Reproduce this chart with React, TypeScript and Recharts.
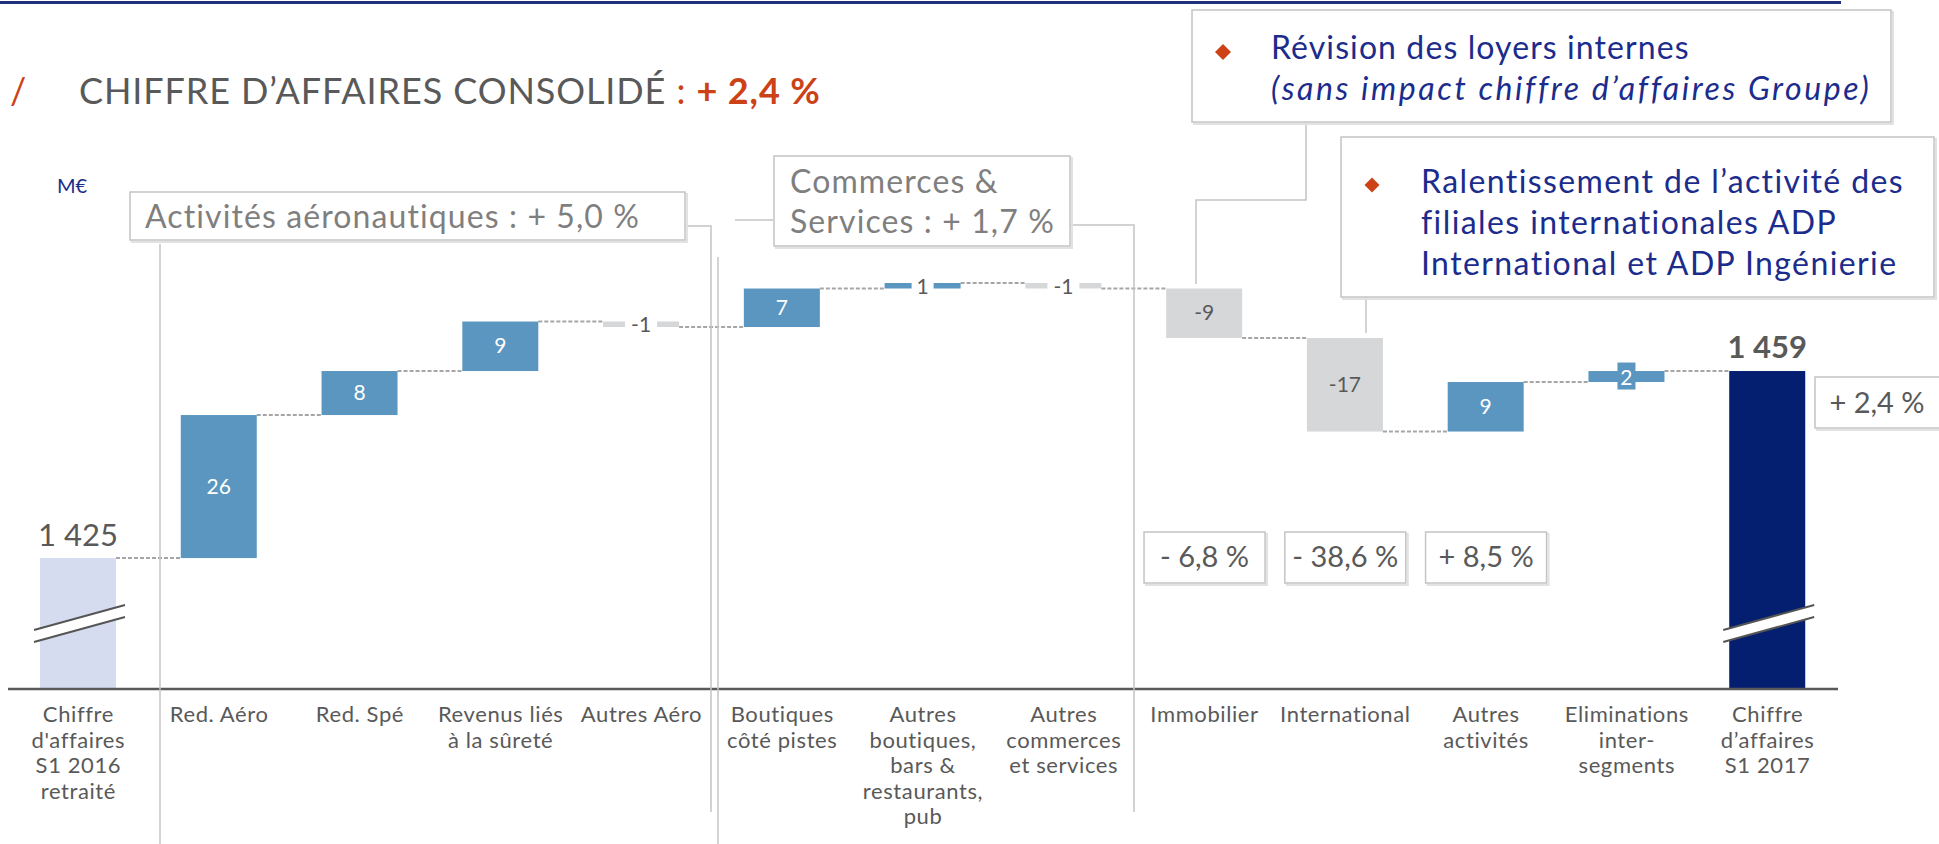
import React from 'react';
import { BarChart, Bar, XAxis, YAxis } from 'recharts';

// ---------- data ----------
const categories = [
  "Chiffre d'affaires S1 2016 retraité",
  'Red. Aéro',
  'Red. Spé',
  'Revenus liés à la sûreté',
  'Autres Aéro',
  'Boutiques côté pistes',
  'Autres boutiques, bars & restaurants, pub',
  'Autres commerces et services',
  'Immobilier',
  'International',
  'Autres activités',
  'Eliminations inter-segments',
  'Chiffre d’affaires S1 2017',
];
const tickLabelLines = [
  ['Chiffre', "d'affaires", 'S1 2016', 'retraité'],
  ['Red. Aéro'],
  ['Red. Spé'],
  ['Revenus liés', 'à la sûreté'],
  ['Autres Aéro'],
  ['Boutiques', 'côté pistes'],
  ['Autres', 'boutiques,', 'bars &', 'restaurants,', 'pub'],
  ['Autres', 'commerces', 'et services'],
  ['Immobilier'],
  ['International'],
  ['Autres', 'activités'],
  ['Eliminations', 'inter-', 'segments'],
  ['Chiffre', 'd’affaires', 'S1 2017'],
];
const startValue = 1425;
const endValue = 1459;
const variations = [26, 8, 9, -1, 7, 1, -1, -9, -17, 9, 2];
const segmentGrowthLabels = ['- 6,8 %', '- 38,6 %', '+ 8,5 %'];
const segmentGrowthIndex = [8, 9, 10];
const totalGrowthLabel = '+ 2,4 %';

// ---------- layout / style ----------
const W = 1939;
const H = 844;
const MARGIN = { top: 250, right: 101, bottom: 0, left: 8 };
const AXIS_H = 155;
const BAR_SIZE = 76;
const Y_DOMAIN: [number, number] = [1401.2, 1481];
const BAND = (W - MARGIN.left - MARGIN.right) / categories.length;
const FONT = "Lato, 'Noto Sans', sans-serif";

const START_FILL = '#D5DCF0';
const UP_FILL = '#5B96C0';
const DOWN_FILL = '#D6D7D9';
const END_FILL = '#041F6F';
const TEXT_DARK = '#595959';
const TEXT_MID = '#7F7F7F';
const BOX_STROKE = '#C4C4C4';
const NAVY = '#1B2C8C';
const ACCENT = '#CC4216';

const fmt = (n: number) => String(n).replace(/\B(?=(\d{3})+(?!\d))/g, ' ');

type Row = {
  name: string;
  value: number | [number, number];
  kind: 'start' | 'up' | 'down' | 'end';
  delta: number;
  total: number;
};

const rows: Row[] = (() => {
  const out: Row[] = [];
  out.push({ name: categories[0], value: startValue, kind: 'start', delta: 0, total: startValue });
  let running = startValue;
  variations.forEach((d, i) => {
    const next = running + d;
    out.push({
      name: categories[i + 1],
      value: [Math.min(running, next), Math.max(running, next)],
      kind: d >= 0 ? 'up' : 'down',
      delta: d,
      total: next,
    });
    running = next;
  });
  out.push({ name: categories[categories.length - 1], value: endValue, kind: 'end', delta: 0, total: endValue });
  return out;
})();

const fillFor = (k: Row['kind']) =>
  k === 'start' ? START_FILL : k === 'end' ? END_FILL : k === 'up' ? UP_FILL : DOWN_FILL;

const BreakMark = ({ x, width, bottom }: { x: number; width: number; bottom: number }) => {
  const x1 = x - 6;
  const x2 = x + width + 9;
  const yl = bottom - 59;
  const yr = bottom - 84;
  const gap = 12;
  return (
    <g>
      <polygon points={`${x1},${yl} ${x2},${yr} ${x2},${yr + gap} ${x1},${yl + gap}`} fill="#fff" />
      <line x1={x1} y1={yl} x2={x2} y2={yr} stroke="#555" strokeWidth={2} />
      <line x1={x1} y1={yl + gap} x2={x2} y2={yr + gap} stroke="#555" strokeWidth={2} />
    </g>
  );
};

const WaterfallShape = (props: any) => {
  const { x, y, width, height, payload, index } = props;
  const row: Row = payload;
  const fill = fillFor(row.kind);
  const cx = x + width / 2;
  const cy = y + height / 2;
  const isLast = index === rows.length - 1;
  const level = row.kind === 'down' ? y + height : y;
  let label: React.ReactNode = null;
  if (row.kind === 'up' || row.kind === 'down') {
    const txt = row.delta > 0 ? String(row.delta) : '-' + Math.abs(row.delta);
    if (Math.abs(row.delta) <= 1) {
      const bw = txt.length * 10 + 12;
      label = (
        <g>
          <rect x={cx - bw / 2} y={cy - 14} width={bw} height={28} fill="#fff" />
          <text x={cx} y={cy + 8} textAnchor="middle" fontSize={21} fill={TEXT_DARK} fontFamily={FONT}>{txt}</text>
        </g>
      );
    } else if (height < 22) {
      label = (
        <g>
          <rect x={cx - 9} y={cy - 14} width={18} height={27} fill={fill} />
          <text x={cx} y={cy + 8} textAnchor="middle" fontSize={21} fill="#fff" fontFamily={FONT}>{txt}</text>
        </g>
      );
    } else {
      label = (
        <text x={cx} y={cy + 7} textAnchor="middle" fontSize={21}
          fill={row.kind === 'up' ? '#fff' : TEXT_DARK} fontFamily={FONT}>{txt}</text>
      );
    }
  } else if (row.kind === 'start') {
    label = (
      <text x={cx} y={y - 12} textAnchor="middle" fontSize={31} fill={TEXT_DARK} fontFamily={FONT}>{fmt(row.total)}</text>
    );
  } else {
    label = (
      <text x={cx} y={y - 13} textAnchor="middle" fontSize={31} fontWeight={700} fill={TEXT_DARK} fontFamily={FONT}>{fmt(row.total)}</text>
    );
  }
  return (
    <g>
      {!isLast && (
        <line x1={x + width} y1={level} x2={x + BAND} y2={level} stroke="#A6A6A6" strokeWidth={2} strokeDasharray="4 2" />
      )}
      <rect x={x} y={y} width={width} height={height} fill={fill} />
      {(row.kind === 'start' || row.kind === 'end') && <BreakMark x={x} width={width} bottom={y + height} />}
      {label}
    </g>
  );
};

const CategoryTick = (props: any) => {
  const { x, y, payload } = props;
  const idx = categories.indexOf(payload.value);
  const lines = tickLabelLines[idx] || [String(payload.value)];
  return (
    <text x={x} y={y + 33} textAnchor="middle" fontSize={22} letterSpacing={0.6} fill={TEXT_DARK} fontFamily={FONT}>
      {lines.map((l, i) => (
        <tspan key={i} x={x} dy={i === 0 ? 0 : 25.5}>{l}</tspan>
      ))}
    </text>
  );
};

const Box = ({ x, y, w, h }: { x: number; y: number; w: number; h: number }) => (
  <g>
    <rect x={x + 2} y={y + 2} width={w} height={h} fill="none" stroke="#E2E2E2" strokeWidth={2} />
    <rect x={x} y={y} width={w} height={h} fill="#fff" stroke={BOX_STROKE} strokeWidth={1.5} />
  </g>
);

const Diamond = ({ cx, cy, r }: { cx: number; cy: number; r: number }) => (
  <polygon points={`${cx},${cy - r} ${cx + r},${cy} ${cx},${cy + r} ${cx - r},${cy}`} fill={ACCENT} />
);

const catCenter = (i: number) => MARGIN.left + BAND * (i + 0.5);

export default function App() {
  return (
    <div style={{ position: 'relative', width: W, height: H, background: '#fff', fontFamily: FONT, overflow: 'hidden' }}>
      <style>{`body{margin:0}`}</style>
      <BarChart width={W} height={H} data={rows} margin={MARGIN} barSize={BAR_SIZE}>
        <XAxis
          dataKey="name"
          interval={0}
          height={AXIS_H}
          tickLine={false}
          tickSize={0}
          tickMargin={0}
          axisLine={{ stroke: TEXT_DARK, strokeWidth: 2.5 }}
          tick={<CategoryTick />}
        />
        <YAxis hide type="number" domain={Y_DOMAIN} allowDataOverflow />
        <Bar dataKey="value" isAnimationActive={false} shape={(p: any) => <WaterfallShape {...p} />} />
      </BarChart>
      <svg width={W} height={H} style={{ position: 'absolute', left: 0, top: 0, pointerEvents: 'none' }} fontFamily={FONT}>
        {/* top rule */}
        <rect x={0} y={1} width={1841} height={3} fill="#1F2F7A" />
        {/* title */}
        <text x={10} y={104} fontSize={36} fill={ACCENT}>/</text>
        <text x={79} y={104} fontSize={36} letterSpacing={0.9} fill={TEXT_DARK}>
          CHIFFRE D’AFFAIRES CONSOLIDÉ <tspan fill={ACCENT}>: </tspan>
          <tspan fill={ACCENT} fontWeight={700}>+ 2,4 %</tspan>
        </text>
        <text x={57} y={193} fontSize={20} fill={NAVY}>M€</text>

        {/* connector lines */}
        <g stroke={BOX_STROKE} strokeWidth={1.5} fill="none">
          <line x1={160} y1={244} x2={160} y2={844} />
          <polyline points="685,226 711,226 711,812" />
          <line x1={735} y1={220} x2={773} y2={220} />
          <line x1={718} y1={257} x2={718} y2={844} />
          <polyline points="1069,225 1134,225 1134,812" />
          <polyline points="1306,122 1306,200 1196,200 1196,284" />
          <line x1={1366} y1={297} x2={1366} y2={333} />
        </g>

        {/* segment boxes */}
        <Box x={130} y={192} w={555} h={48} />
        <text x={145} y={228} fontSize={32} letterSpacing={1.1} fill={TEXT_MID}>Activités aéronautiques : + 5,0 %</text>

        <Box x={774} y={156} w={296} h={90} />
        <text x={790} y={193} fontSize={32} letterSpacing={1.1} fill={TEXT_MID}>Commerces &amp;</text>
        <text x={790} y={233} fontSize={32} letterSpacing={1.1} fill={TEXT_MID}>Services : + 1,7 %</text>

        <Box x={1192} y={10} w={699} h={112} />
        <Diamond cx={1223} cy={52} r={8} />
        <text x={1271} y={59} fontSize={32} letterSpacing={1.1} fill={NAVY}>Révision des loyers internes</text>
        <text x={1271} y={100} fontSize={32} letterSpacing={2.6} fill={NAVY} fontStyle="italic">(sans impact chiffre d’affaires Groupe)</text>

        <Box x={1341} y={137} w={593} h={160} />
        <Diamond cx={1372} cy={185} r={7.5} />
        <text x={1421} y={193} fontSize={32} letterSpacing={1.4} fill={NAVY}>Ralentissement de l’activité des</text>
        <text x={1421} y={234} fontSize={32} letterSpacing={1.4} fill={NAVY}>filiales internationales ADP</text>
        <text x={1421} y={275} fontSize={32} letterSpacing={1.4} fill={NAVY}>International et ADP Ingénierie</text>

        {/* growth boxes */}
        {segmentGrowthLabels.map((t, i) => {
          const cx = catCenter(segmentGrowthIndex[i]);
          return (
            <g key={t}>
              <Box x={cx - 60.5} y={532} w={121} h={51} />
              <text x={cx} y={567} textAnchor="middle" fontSize={29} fill={TEXT_DARK}>{t}</text>
            </g>
          );
        })}
        <Box x={1815} y={377} w={130} h={51} />
        <text x={1877} y={413} textAnchor="middle" fontSize={29} fill={TEXT_DARK}>{totalGrowthLabel}</text>
      </svg>
    </div>
  );
}
